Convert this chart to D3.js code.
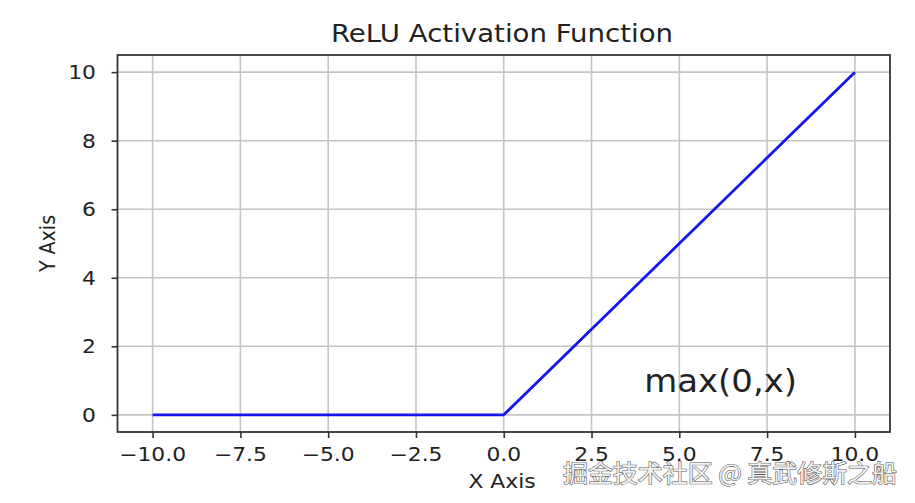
<!DOCTYPE html>
<html>
<head>
<meta charset="utf-8">
<script src="https://cdn.jsdelivr.net/npm/d3@7"></script>
<style>
  html, body { margin: 0; padding: 0; background: #fff; }
  svg { display: block; }
  text { font-family: "DejaVu Sans", sans-serif; fill: #222; }
</style>
</head>
<body>
<svg id="chart" width="915" height="503"></svg>
<script>
// ---- data ----
const xValues = [-10, -7.5, -5, -2.5, 0, 2.5, 5, 7.5, 10];
const yValues = [0, 0, 0, 0, 0, 2.5, 5, 7.5, 10];
const xTicks = [-10, -7.5, -5, -2.5, 0, 2.5, 5, 7.5, 10];
const yTicks = [0, 2, 4, 6, 8, 10];
const titleText = "ReLU Activation Function";
const xLabel = "X Axis";
const yLabel = "Y Axis";
const annotation = { x: 4, y: 1, text: "max(0,x)" };
const watermark = "掘金技术社区 @ 真武修斯之船";

// ---- layout ----
const plot = { left: 117.5, right: 890, top: 55, bottom: 432 };
const SX = 1.15; // horizontal stretch of the original picture

const svg = d3.select("#chart");
const x = d3.scaleLinear().domain([-11, 11]).range([plot.left, plot.right]);
const y = d3.scaleLinear().domain([-0.5, 10.5]).range([plot.bottom, plot.top]);

function stretchedText(g, px, py, str, size, anchor, rotate, sx) {
  const s = sx === undefined ? SX : sx;
  return g.append("text")
    .attr("transform", `translate(${px},${py})` + (rotate ? ` rotate(${rotate}) scale(1,${s})` : ` scale(${s},1)`))
    .attr("text-anchor", anchor)
    .style("font-size", size + "px")
    .text(str);
}

// grid
const grid = svg.append("g");
grid.selectAll("line.gx").data(xTicks).join("line")
  .attr("x1", d => x(d)).attr("x2", d => x(d))
  .attr("y1", plot.top).attr("y2", plot.bottom)
  .attr("stroke", "#c4c4c4").attr("stroke-width", 1.6);
grid.selectAll("line.gy").data(yTicks).join("line")
  .attr("y1", d => y(d)).attr("y2", d => y(d))
  .attr("x1", plot.left).attr("x2", plot.right)
  .attr("stroke", "#c4c4c4").attr("stroke-width", 1.6);

// line
const line = d3.line().x((d, i) => x(xValues[i])).y(d => y(d));
svg.append("path")
  .datum(yValues)
  .attr("d", line)
  .attr("fill", "none")
  .attr("stroke", "#1515f0")
  .attr("stroke-width", 2.8)
  .attr("stroke-linejoin", "round");

// frame
svg.append("rect")
  .attr("x", plot.left).attr("y", plot.top)
  .attr("width", plot.right - plot.left).attr("height", plot.bottom - plot.top)
  .attr("fill", "none").attr("stroke", "#333").attr("stroke-width", 1.8);

// axes
const xAxis = d3.axisBottom(x).tickValues(xTicks).tickSize(6).tickFormat(() => "");
const gx = svg.append("g").attr("transform", `translate(0,${plot.bottom})`).call(xAxis);
gx.select(".domain").remove();
gx.selectAll(".tick line").attr("stroke", "#333").attr("stroke-width", 1.6);

const yAxis = d3.axisLeft(y).tickValues(yTicks).tickSize(6).tickFormat(() => "");
const gy = svg.append("g").attr("transform", `translate(${plot.left},0)`).call(yAxis);
gy.select(".domain").remove();
gy.selectAll(".tick line").attr("stroke", "#333").attr("stroke-width", 1.6);

// tick labels
const fmtX = d => (d < 0 ? "\u2212" : "") + Math.abs(d).toFixed(1);
const lab = svg.append("g");
xTicks.forEach(d => stretchedText(lab, x(d), 461, fmtX(d), 19, "middle"));
yTicks.forEach(d => stretchedText(lab, 96, y(d) + 7, String(d), 19, "end"));

// title and axis labels
stretchedText(svg, 502, 42, titleText, 24, "middle");
stretchedText(svg, 502, 488, xLabel, 19, "middle");
stretchedText(svg, 55, (plot.top + plot.bottom) / 2, yLabel, 19, "middle", -90);

// annotation
stretchedText(svg, x(annotation.x), y(annotation.y) + 11, annotation.text, 32, "start", null, 1.06);

// watermark
svg.append("text")
  .attr("x", 563).attr("y", 482)
  .attr("textLength", 334)
  .attr("lengthAdjust", "spacingAndGlyphs")
  .style("font-family", "'Noto Sans CJK SC', sans-serif")
  .style("font-size", "24px")
  .style("fill", "#f2f2f2")
  .attr("stroke", "#555")
  .attr("stroke-width", 1.1)
  .attr("paint-order", "stroke")
  .text(watermark);
</script>
</body>
</html>
